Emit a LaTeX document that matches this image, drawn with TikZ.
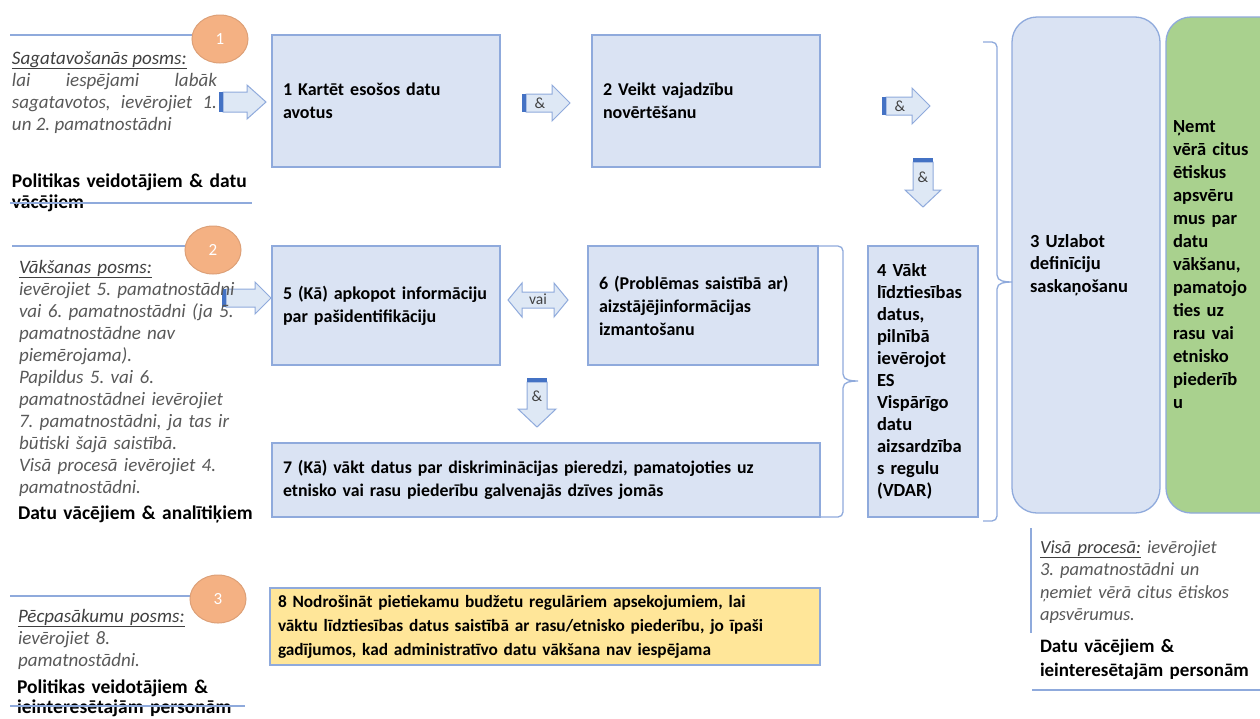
\documentclass[tikz,border=0pt]{standalone}
\usepackage{fontspec}
\setmainfont{Carlito}
\usetikzlibrary{calc,shapes.geometric}
\frenchspacing
\definecolor{boxfill}{HTML}{DAE3F3}
\definecolor{boxdraw}{HTML}{8FAADC}
\definecolor{greenfill}{HTML}{A9D18E}
\definecolor{yellowfill}{HTML}{FFE699}
\definecolor{orangefill}{HTML}{F4B183}
\definecolor{orangedraw}{HTML}{DDA077}
\definecolor{linecol}{HTML}{8FAADC}
\definecolor{barcol}{HTML}{4472C4}
\definecolor{graytext}{HTML}{595959}
\definecolor{headtext}{HTML}{404040}
\definecolor{arrfill}{HTML}{DEE8F5}

\tikzset{
  box/.style={draw=boxdraw, fill=boxfill, line width=1.3pt, inner xsep=11pt, inner ysep=0pt,
    align=left, font=\fontsize{18}{23}\selectfont\bfseries, anchor=north west,
    execute at begin node={\hyphenpenalty=10000\relax}},
  roundbox/.style={box, rounded corners=25pt, font=\fontsize{18.5}{22.5}\selectfont\bfseries},
  circ/.style={ellipse, draw=orangedraw, fill=orangefill, line width=1pt, minimum width=56pt,
    minimum height=48pt, inner sep=0pt, text=white, font=\fontsize{17}{17}\selectfont},
  lefttext/.style={text=graytext, font=\fontsize{19}{22}\selectfont\itshape, align=left, anchor=base west},
  leftbold/.style={text=black, text width=260pt, font=\fontsize{19.5}{21.5}\selectfont\bfseries, align=left, anchor=base west},
  sepline/.style={draw=linecol, line width=1.2pt},
  brace/.style={draw=linecol, line width=1.3pt},
  arrshape/.style={draw=boxdraw, fill=arrfill, line width=1pt},
  arrtext/.style={text=headtext, font=\fontsize{15.5}{15.5}\selectfont},
}

% right block arrow: name, tail x, centre y, shaft end x, tip x, half shaft, half head, text
\newcommand{\rblockarrow}[8]{%
  \draw[arrshape] (#2+4,#3-#6) -- (#4,#3-#6) -- (#4,#3-#7) -- (#5,#3) -- (#4,#3+#7) -- (#4,#3+#6) -- (#2+4,#3+#6) -- cycle;
  \fill[barcol] (#2,#3-#6) rectangle (#2+3.5,#3+#6);
  \node[arrtext] (#1) at ({(#2+#4)/2+3},#3) {#8};
}
% down block arrow: name, centre x, tail y, shaft end y, tip y, half shaft, half head, text
\newcommand{\dblockarrow}[8]{%
  \draw[arrshape] (#2-#6,#3+4) -- (#2-#6,#4) -- (#2-#7,#4) -- (#2,#5) -- (#2+#7,#4) -- (#2+#6,#4) -- (#2+#6,#3+4) -- cycle;
  \fill[barcol] (#2-#6,#3) rectangle (#2+#6,#3+3.5);
  \node[arrtext] (#1) at (#2,{(#3+#4)/2+3}) {#8};
}

\begin{document}
\begin{tikzpicture}[x=1pt,y=-1pt, every node/.style={inner sep=0pt, outer sep=0pt}]
\path[use as bounding box, clip] (0,0) rectangle (1260,718);
\fill[white] (0,0) rectangle (1260,718);

% ---------- main boxes ----------
\node[box, text width=206pt, minimum height=132pt] (b1) at (272,35) {1 Kartēt esošos datu\\avotus};
\node[box, text width=206pt, minimum height=132pt] (b2) at (592,35) {2 Veikt vajadzību\\novērtēšanu};
\node[box, text width=206pt, minimum height=119pt] (b5) at (272,246) {5 (Kā) apkopot informāciju\\par pašidentifikāciju};
\node[box, text width=208pt, minimum height=119pt] (b6) at (588,246) {6 (Problēmas saistībā ar)\\aizstājējinformācijas\\izmantošanu};
\node[box, text width=526pt, minimum height=74pt, font=\fontsize{17.8}{23.5}\selectfont\bfseries] (b7) at (272,443) {7 (Kā) vākt datus par diskriminācijas pieredzi, pamatojoties uz\\etnisko vai rasu piederību galvenajās dzīves jomās};
\node[box, inner xsep=9pt, text width=92pt, minimum height=271pt, font=\fontsize{18.5}{22}\selectfont\bfseries] (b4) at (868,246) {4 Vākt\\līdztiesības\\datus,\\pilnībā\\ievērojot\\ES\\Vispārīgo\\datu\\aizsardzība\\s regulu\\(VDAR)};
\node[box, fill=yellowfill, inner xsep=8pt, text width=534pt, minimum height=77pt, font=\fontsize{17.3}{24}\selectfont\bfseries] (b8) at (270,588) {8 Nodrošināt pietiekamu budžetu regulāriem apsekojumiem, lai\\vāktu līdztiesības datus saistībā ar rasu/etnisko piederību, jo īpaši\\gadījumos, kad administratīvo datu vākšana nav iespējama};
\node[roundbox, inner xsep=18pt, text width=112pt, minimum height=496pt] (b3) at (1012,17) {3 Uzlabot\\definīciju\\saskaņošanu};
\node[roundbox, fill=greenfill, inner xsep=7pt, text width=110pt, minimum height=496pt, font=\fontsize{18.5}{23}\selectfont\bfseries] (bg) at (1166,17) {Ņemt\\vērā citus\\ētiskus\\apsvēru\\mus par\\datu\\vākšanu,\\pamatojo\\ties uz\\rasu vai\\etnisko\\piederīb\\u};

% ---------- block arrows ----------
\rblockarrow{a1}{219}{102}{247}{266}{10}{17}{}
\rblockarrow{a12}{522}{103}{552}{570}{9}{18}{\&}
\rblockarrow{a23}{882}{106}{912}{930}{9}{18}{\&}
\dblockarrow{a24}{923}{158}{190}{207}{10}{18}{\&}
\rblockarrow{a5}{222}{298}{255}{271}{9}{16}{}
\dblockarrow{a57}{537}{378}{409}{427}{10}{19}{\&}
\draw[arrshape] (508,300) -- (522,283) -- (522,292) -- (554,292) -- (554,283) -- (568,300) -- (554,317) -- (554,308) -- (522,308) -- (522,317) -- cycle;
\node[arrtext] (a56) at (538,299) {vai};

% ---------- braces ----------
\draw[brace] (b6.north east) -- (838,246) to[out=0,in=90] (843,251) -- (843,374) to[out=270,in=180] (858,381)
  to[out=180,in=90] (843,388) -- (843,512) to[out=270,in=0] (838,517) -- (b7.south east);
\coordinate (br2top) at (983,42);
\coordinate (br2bot) at (983,521);
\draw[brace] (br2top) -- (992,42) to[out=0,in=90] (997,47) -- (997,275) to[out=270,in=180] (1012,282)
  to[out=180,in=90] (997,289) -- (997,516) to[out=270,in=0] (992,521) -- (br2bot);

% ---------- left column: section 1 ----------
\draw[sepline] (10,35) -- (205,35);
\node[circ] (c1) at (220,39) {1};
\node[lefttext, text width=205pt, align=justify] (t1) at (12,64) {\textcolor{headtext}{\underline{Sagatavošanās posms:}}\\lai iespējami labāk\linebreak sagatavotos, ievērojiet 1.\linebreak un 2. pamatnostādni};
\node[leftbold] (p1) at (12,187) {Politikas veidotājiem \& datu\\vācējiem};
\draw[sepline] (10,203) -- (252,203);

% ---------- section 2 ----------
\draw[sepline] (12,246) -- (200,246);
\node[circ] (c2) at (213,250) {2};
\node[lefttext, text width=230pt] (t2) at (19,273) {\textcolor{headtext}{\underline{Vākšanas posms:}}\\ievērojiet 5. pamatnostādni\\vai 6. pamatnostādni (ja 5.\\pamatnostādne nav\\piemērojama).\\Papildus 5. vai 6.\\pamatnostādnei ievērojiet\\7. pamatnostādni, ja tas ir\\būtiski šajā saistībā.\\Visā procesā ievērojiet 4.\\pamatnostādni.};
\node[leftbold] (p2) at (18,519) {Datu vācējiem \& analītiķiem};

% ---------- section 3 ----------
\draw[sepline] (10,596) -- (200,596);
\node[circ] (c3) at (218,599) {3};
\node[lefttext, text width=230pt] (t3) at (18,622) {\textcolor{headtext}{\underline{Pēcpasākumu posms:}}\\ievērojiet 8.\\pamatnostādni.};
\node[leftbold, font=\fontsize{19.5}{20.5}\selectfont\bfseries] (p3) at (17,693) {Politikas veidotājiem \&\\ieinteresētajām personām};
\draw[sepline] (10,706) -- (245,706);

% ---------- right bottom ----------
\draw[sepline] (1031,528) -- (1031,633);
\node[lefttext, text width=220pt, font=\fontsize{18.5}{22.5}\selectfont\itshape] (t4) at (1040,553) {\textcolor{headtext}{\underline{Visā procesā:}} ievērojiet\\3. pamatnostādni un\\ņemiet vērā citus ētiskos\\apsvērumus.};
\node[leftbold, text width=215pt, font=\fontsize{19}{24}\selectfont\bfseries] (p4) at (1040,652) {Datu vācējiem \&\\ieinteresētajām personām};
\draw[sepline] (1032,690) -- (1260,690);
\end{tikzpicture}
\end{document}
